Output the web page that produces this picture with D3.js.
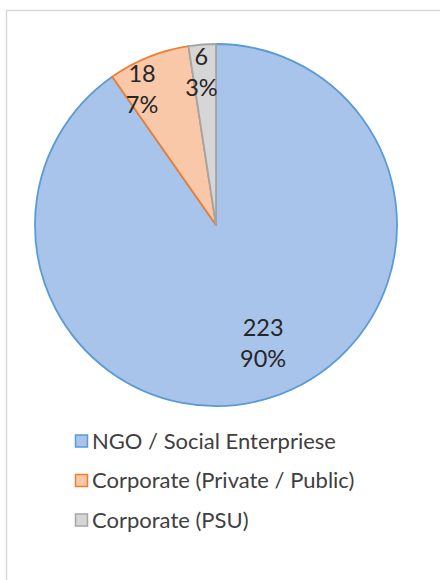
<!DOCTYPE html>
<html>
<head>
<meta charset="utf-8">
<script src="https://cdn.jsdelivr.net/npm/d3@7"></script>
<style>
  html, body { margin: 0; padding: 0; background: #ffffff; }
  svg { display: block; }
</style>
</head>
<body>
<svg id="chart" width="440" height="580"></svg>
<script>
// Partner types and their counts
const categories = ["NGO / Social Enterpriese", "Corporate (Private / Public)", "Corporate (PSU)"];
const counts = [223, 18, 6];
const percentLabels = ["90%", "7%", "3%"];

const fills = ["#a9c4ea", "#f8c8a9", "#d6d6d6"];
const strokes = ["#5b9bd5", "#ed7d31", "#a5a5a5"];

const W = 440, H = 580;
const svg = d3.select("#chart");

// chart area frame
svg.append("rect")
  .attr("x", 6.5).attr("y", 10.5)
  .attr("width", W).attr("height", H)
  .attr("fill", "#ffffff")
  .attr("stroke", "#d9d9d9")
  .attr("stroke-width", 1.5);

const cx = 216, cy = 225, R = 181;

const pie = d3.pie().sort(null).value(d => d)
  .startAngle(0).endAngle(2 * Math.PI);
const arcs = pie(counts);

const arc = d3.arc().innerRadius(0).outerRadius(R);

const g = svg.append("g").attr("transform", `translate(${cx},${cy})`);

g.selectAll("path.slice")
  .data(arcs)
  .join("path")
  .attr("class", "slice")
  .attr("d", arc)
  .attr("fill", (d, i) => fills[i])
  .attr("stroke", (d, i) => strokes[i])
  .attr("stroke-width", 1.8)
  .attr("stroke-linejoin", "round");

// data labels: count above percentage
const labelRadius = [0.71, 0.85, 0.84];
const angleNudge = [-0.07, -0.12, -0.02];
const labelFont = "Lato, 'Open Sans', sans-serif";

arcs.forEach((d, i) => {
  const a = (d.startAngle + d.endAngle) / 2 + angleNudge[i];
  const r = R * labelRadius[i];
  const x = Math.sin(a) * r;
  const y = -Math.cos(a) * r;
  const t = g.append("text")
    .attr("x", x).attr("y", y)
    .attr("text-anchor", "middle")
    .attr("font-family", labelFont)
    .attr("font-size", 23.5)
    .attr("fill", "#262626");
  t.append("tspan").attr("x", x).attr("dy", "-0.35em").text(counts[i]);
  t.append("tspan").attr("x", x).attr("dy", "1.32em").text(percentLabels[i]);
});

// legend
const legend = svg.append("g").attr("transform", "translate(75,441)");
const rowGap = 39.5;
categories.forEach((c, i) => {
  const row = legend.append("g").attr("transform", `translate(0,${i * rowGap})`);
  row.append("rect")
    .attr("x", 0.5).attr("y", -6)
    .attr("width", 12).attr("height", 12)
    .attr("fill", fills[i])
    .attr("stroke", strokes[i])
    .attr("stroke-width", 1.5);
  row.append("text")
    .attr("x", 17).attr("y", 0)
    .attr("dy", "0.35em")
    .attr("font-family", labelFont)
    .attr("font-size", 22)
    .attr("fill", "#404040")
    .text(c);
});
</script>
</body>
</html>
